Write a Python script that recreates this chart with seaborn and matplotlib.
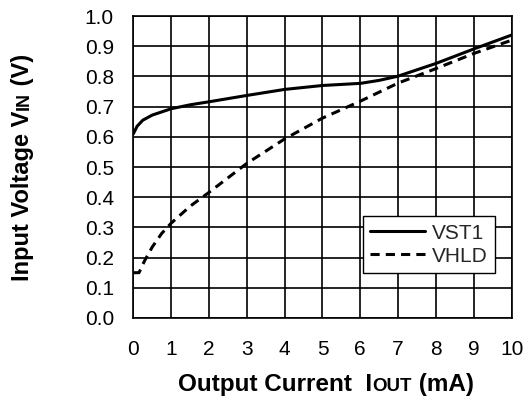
import matplotlib
matplotlib.use("Agg")
import matplotlib.pyplot as plt
from matplotlib.transforms import IdentityTransform
import seaborn as sns
import pandas as pd

vst1_x = [0, 0.1, 0.25, 0.5, 1, 1.5, 2, 3, 4, 5, 6, 6.5, 7, 8, 9, 10]
vst1_y = [0.61, 0.635, 0.655, 0.672, 0.693, 0.706, 0.716, 0.737, 0.757, 0.770, 0.777, 0.787, 0.801, 0.843, 0.891, 0.937]
vhld_x = [0, 0.15, 0.3, 0.5, 0.75, 1, 1.5, 2, 3, 4, 5, 6, 7, 8, 9, 10]
vhld_y = [0.15, 0.15, 0.19, 0.235, 0.28, 0.314, 0.37, 0.416, 0.512, 0.593, 0.662, 0.718, 0.778, 0.826, 0.876, 0.92]
series_names = ["VST1", "VHLD"]
x_ticks = list(range(0, 11))
y_ticks = [round(i * 0.1, 1) for i in range(11)]
xlabel_parts = ["Output Current  I", "OUT", " (mA)"]
ylabel_parts = ["Input Voltage V", "IN", " (V)"]

df = pd.concat([
    pd.DataFrame({"x": vst1_x, "y": vst1_y, "series": series_names[0]}),
    pd.DataFrame({"x": vhld_x, "y": vhld_y, "series": series_names[1]}),
])

sns.set_theme(style="white")
plt.rcParams["font.family"] = ["Liberation Sans", "DejaVu Sans"]

W, H = 528, 401
fig = plt.figure(figsize=(W / 100, H / 100), dpi=100)
ax = fig.add_axes([0.2525, 0.207, 0.7165, 0.753])

sns.lineplot(data=df, x="x", y="y", hue="series", style="series",
             palette={"VST1": "black", "VHLD": "black"},
             dashes={"VST1": "", "VHLD": (3.0, 2.0)},
             linewidth=2.2, ax=ax, estimator=None, sort=False)

ax.set_xlim(0, 10)
ax.set_ylim(0, 1.0)
ax.set_xticks(x_ticks)
ax.set_yticks(y_ticks)
ax.set_xticklabels([str(t) for t in x_ticks])
ax.set_yticklabels([f"{t:.1f}" for t in y_ticks])
ax.grid(True, color="black", linewidth=1.2)
ax.set_axisbelow(True)
for s in ax.spines.values():
    s.set_color("black")
    s.set_linewidth(1.2)
ax.tick_params(axis="both", length=0, labelsize=15, colors="black")
ax.tick_params(axis="x", pad=16)
ax.tick_params(axis="y", pad=14)
ax.set_xlabel("")
ax.set_ylabel("")

leg = ax.legend(loc="lower right", bbox_to_anchor=(0.956, 0.149), borderaxespad=0,
                fontsize=15, frameon=True, fancybox=False, edgecolor="black",
                framealpha=1, handlelength=2.6, borderpad=0.35, labelspacing=0.2,
                handletextpad=0.35)
leg.get_frame().set_linewidth(1.0)


def place_label(parts, sizes, center, baseline, vertical):
    texts = []
    for s, fs in zip(parts, sizes):
        t = fig.text(0, 0, s, fontsize=fs, fontweight="bold", color="black",
                     rotation=90 if vertical else 0, rotation_mode="anchor",
                     ha="left", va="baseline", transform=IdentityTransform())
        texts.append(t)
    fig.canvas.draw()
    r = fig.canvas.get_renderer()
    lens = []
    for t in texts:
        e = t.get_window_extent(r)
        lens.append(e.height if vertical else e.width)
    pos = center - sum(lens) / 2
    for t, L in zip(texts, lens):
        if vertical:
            t.set_position((baseline, pos))
        else:
            t.set_position((pos, baseline))
        pos += L


place_label(xlabel_parts, [17.5, 13.5, 17.5], center=326, baseline=H - 391, vertical=False)
place_label(ylabel_parts, [17, 13, 17], center=H - 167.5, baseline=29, vertical=True)

fig.savefig("out.png", dpi=100)
